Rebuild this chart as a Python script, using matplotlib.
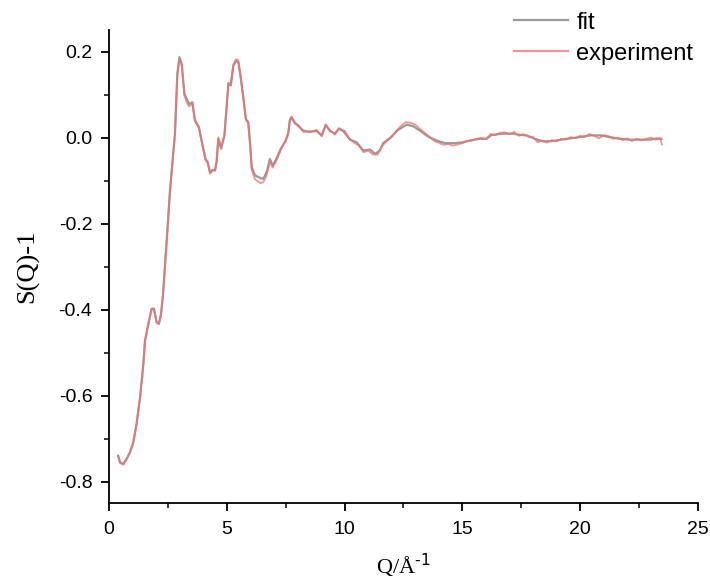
import matplotlib
matplotlib.use("Agg")
import matplotlib.pyplot as plt
from matplotlib.ticker import MultipleLocator

plt.rcParams['axes.unicode_minus'] = False

# fit curve, S(Q)-1
q_fit = [0.39, 0.47, 0.61, 0.75, 0.89, 1.03, 1.17, 1.32, 1.46, 1.53,
         1.67, 1.81, 1.91, 2.02, 2.12, 2.21, 2.30, 2.45, 2.59, 2.80,
         2.90, 2.99, 3.09, 3.20, 3.30, 3.40, 3.54, 3.65, 3.82, 3.96,
         4.10, 4.19, 4.29, 4.40, 4.50, 4.57, 4.64, 4.76, 4.90, 5.07,
         5.17, 5.28, 5.39, 5.49, 5.59, 5.70, 5.81, 5.91, 5.98, 6.06,
         6.20, 6.41, 6.55, 6.69, 6.83, 6.95, 7.10, 7.30, 7.50, 7.61,
         7.68, 7.75, 7.89, 8.04, 8.25, 8.53, 8.81, 9.03, 9.20, 9.38,
         9.59, 9.76, 9.95, 10.23, 10.51, 10.79, 11.08, 11.30, 11.50, 11.64,
         11.93, 12.28, 12.64, 12.92, 13.20, 13.55, 13.91, 14.26, 14.69, 15.04,
         15.32, 15.75, 16.03, 16.24, 16.74, 17.16, 17.45, 17.73, 18.08, 18.43,
         18.86, 19.43, 19.99, 20.42, 20.84, 21.26, 21.69, 22.11, 22.68, 22.96,
         23.25, 23.45]
s_fit = [-0.740, -0.755, -0.759, -0.747, -0.732, -0.709, -0.666, -0.604, -0.526, -0.472,
         -0.433, -0.398, -0.398, -0.429, -0.433, -0.410, -0.360, -0.240, -0.123, 0.009,
         0.148, 0.187, 0.171, 0.102, 0.090, 0.078, 0.082, 0.040, 0.024, -0.015,
         -0.050, -0.057, -0.082, -0.075, -0.077, -0.057, -0.003, -0.026, 0.004, 0.125,
         0.121, 0.167, 0.178, 0.175, 0.140, 0.094, 0.043, 0.036, -0.007, -0.069,
         -0.088, -0.094, -0.096, -0.081, -0.050, -0.065, -0.050, -0.025, -0.008, 0.009,
         0.040, 0.046, 0.033, 0.028, 0.014, 0.014, 0.015, 0.005, 0.030, 0.015,
         0.009, 0.020, 0.015, -0.005, -0.011, -0.030, -0.028, -0.038, -0.030, -0.013,
         -0.001, 0.018, 0.030, 0.026, 0.016, 0.002, -0.007, -0.013, -0.013, -0.011,
         -0.007, -0.003, -0.003, 0.006, 0.009, 0.009, 0.006, 0.005, -0.003, -0.009,
         -0.008, -0.003, 0.001, 0.005, 0.005, 0.001, -0.003, -0.005, -0.005, -0.005,
         -0.002, -0.003]

# experimental curve
q_exp = [0.39, 0.47, 0.61, 0.75, 0.89, 1.03, 1.17, 1.32, 1.46, 1.53,
         1.67, 1.81, 1.91, 2.02, 2.12, 2.21, 2.30, 2.45, 2.59, 2.80,
         2.90, 2.99, 3.09, 3.20, 3.30, 3.40, 3.54, 3.65, 3.82, 3.96,
         4.10, 4.19, 4.29, 4.40, 4.50, 4.57, 4.64, 4.76, 4.90, 5.07,
         5.17, 5.28, 5.39, 5.49, 5.59, 5.70, 5.81, 5.91, 5.98, 6.06,
         6.20, 6.41, 6.55, 6.69, 6.83, 6.95, 7.10, 7.30, 7.50, 7.61,
         7.68, 7.75, 7.89, 8.04, 8.25, 8.53, 8.81, 9.03, 9.20, 9.38,
         9.59, 9.76, 9.95,
         10.0, 10.2, 10.4, 10.6, 10.8, 11.0, 11.2, 11.4, 11.6, 11.8,
         12.0, 12.2, 12.4, 12.6, 12.8, 13.0, 13.2, 13.4, 13.6, 13.8,
         14.0, 14.2, 14.4, 14.6, 14.8, 15.0, 15.2, 15.4, 15.6, 15.8,
         16.0, 16.2, 16.4, 16.6, 16.8, 17.0, 17.2, 17.4, 17.6, 17.8,
         18.0, 18.2, 18.4, 18.6, 18.8, 19.0, 19.2, 19.4, 19.6, 19.8,
         20.0, 20.2, 20.4, 20.6, 20.8, 21.0, 21.2, 21.4, 21.6, 21.8,
         22.0, 22.2, 22.4, 22.6, 22.8, 23.0, 23.2, 23.4, 23.47]
s_exp = [-0.742, -0.757, -0.761, -0.748, -0.733, -0.710, -0.667, -0.605, -0.527, -0.473,
         -0.434, -0.400, -0.400, -0.430, -0.434, -0.411, -0.360, -0.240, -0.124, 0.008,
         0.145, 0.181, 0.168, 0.098, 0.082, 0.072, 0.079, 0.038, 0.021, -0.017,
         -0.053, -0.060, -0.084, -0.077, -0.075, -0.054, 0.000, -0.022, 0.006, 0.128,
         0.125, 0.170, 0.182, 0.180, 0.142, 0.095, 0.042, 0.033, -0.010, -0.076,
         -0.097, -0.106, -0.104, -0.088, -0.056, -0.070, -0.055, -0.028, -0.006, 0.012,
         0.043, 0.049, 0.036, 0.026, 0.017, 0.012, 0.018, 0.003, 0.028, 0.017,
         0.007, 0.022, 0.016,
         0.016, -0.002, -0.012, -0.018, -0.034, -0.031, -0.039, -0.040, -0.019, -0.008,
         0.001, 0.016, 0.027, 0.036, 0.034, 0.030, 0.020, 0.011, 0.002, -0.008,
         -0.012, -0.017, -0.015, -0.019, -0.016, -0.013, -0.008, -0.007, -0.003, -0.001,
         -0.004, 0.008, 0.005, 0.011, 0.012, 0.008, 0.013, 0.004, 0.008, 0.002,
         0.001, -0.011, -0.007, -0.012, -0.006, -0.009, -0.003, -0.005, 0.001, -0.002,
         0.004, 0.001, 0.008, 0.004, -0.002, 0.006, 0.003, -0.003, 0.000, -0.006,
         -0.002, -0.008, -0.003, -0.007, -0.003, 0.000, -0.005, -0.002, -0.016]

fig = plt.figure(figsize=(7.1, 5.83), dpi=100)
ax = fig.add_axes([0.1535, 0.1372, 0.8295, 0.8113])

ax.plot(q_fit, s_fit, color='#9a9a9a', lw=1.6, label='fit')
ax.plot(q_exp, s_exp, color='#f07070', lw=1.3, alpha=0.75, label='experiment')

ax.set_xlim(0, 25)
ax.set_ylim(-0.85, 0.25)
ax.xaxis.set_major_locator(MultipleLocator(5))
ax.xaxis.set_minor_locator(MultipleLocator(2.5))
ax.yaxis.set_major_locator(MultipleLocator(0.2))
ax.yaxis.set_minor_locator(MultipleLocator(0.1))
ax.yaxis.set_major_formatter(plt.FormatStrFormatter('%.1f'))

for side in ['top', 'right']:
    ax.spines[side].set_visible(False)
for side in ['left', 'bottom']:
    ax.spines[side].set_linewidth(1.3)

ax.tick_params(which='major', direction='out', length=6, width=1.3, labelsize=14)
ax.tick_params(axis='y', which='major', pad=6)
ax.tick_params(axis='x', which='major', pad=7)
ax.tick_params(which='minor', direction='out', length=3.5, width=1.1)
for lab in ax.get_xticklabels() + ax.get_yticklabels():
    lab.set_fontfamily('Liberation Sans')

ax.set_xlabel('Q/Å$^{\\text{-1}}$', family='Liberation Serif', fontsize=16, labelpad=10)
ax.set_ylabel('S(Q)-1', family='Liberation Serif', fontsize=19, labelpad=14)

leg = ax.legend(loc='upper right', bbox_to_anchor=(1.028, 1.084), frameon=False,
                prop={'family': 'Liberation Sans', 'size': 17},
                handlelength=2.3, handletextpad=0.35, labelspacing=0.38)
for line in leg.get_lines():
    line.set_linewidth(1.6)

fig.savefig('out.png', dpi=100)
